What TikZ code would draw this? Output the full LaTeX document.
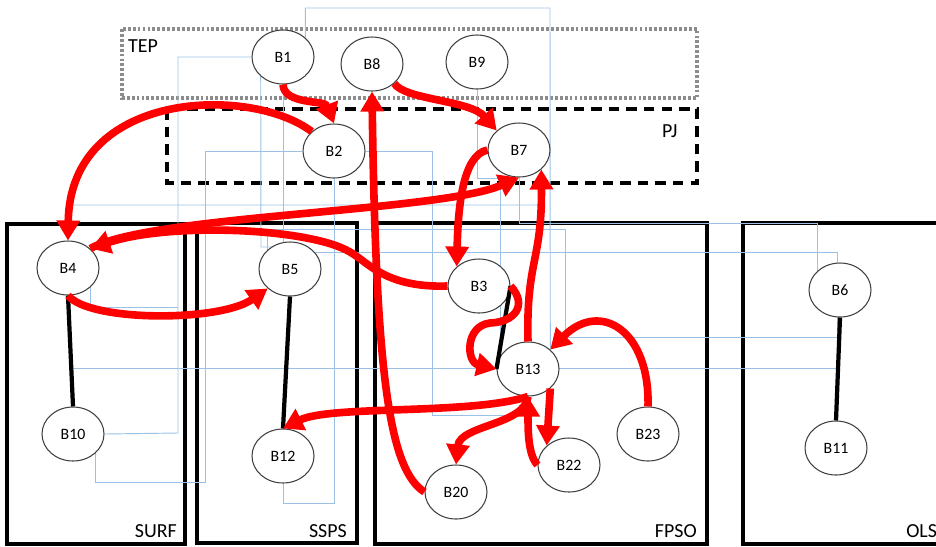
\documentclass[tikz,border=0pt]{standalone}
\usepackage{fontspec}
\setmainfont{Carlito}
\usetikzlibrary{shapes.geometric,arrows.meta,backgrounds}
\definecolor{wireblue}{RGB}{155,194,230}
\tikzstyle{block} = [ellipse, draw=black!75, line width=0.9pt, fill=white, minimum width=1.86cm, minimum height=1.62cm, inner sep=0pt, font=\fontsize{13.5}{15}\selectfont]
\tikzstyle{flow} = [draw=red, line width=6.5pt, -{Triangle[length=0.6cm,width=0.68cm]}]
\tikzstyle{tie} = [draw, line width=3.6pt]
\tikzstyle{wire} = [draw=wireblue, line width=0.8pt]
\tikzstyle{frame} = [draw, line width=2.6pt]
\tikzstyle{tag} = [font=\fontsize{17}{20}\selectfont, inner sep=0pt]

\begin{document}
\begin{tikzpicture}[x=0.03cm, y=-0.03cm]
\useasboundingbox (0,0) rectangle (936,546);

% blocks
\node [block] (b1) at (283,57) {B1};
\node [block] (b8) at (372,64) {B8};
\node [block] (b9) at (477,62) {B9};
\node [block] (b2) at (334,151) {B2};
\node [block] (b7) at (519,150) {B7};
\node [block] (b4) at (68,268) {B4};
\node [block] (b10) at (73,434) {B10};
\node [block] (b5) at (290,269) {B5};
\node [block] (b12) at (283,456) {B12};
\node [block] (b3) at (479,286) {B3};
\node [block] (b13) at (528,369) {B13};
\node [block] (b20) at (456,492) {B20};
\node [block] (b22) at (569,465) {B22};
\node [block] (b23) at (648,434) {B23};
\node [block] (b6) at (840,290) {B6};
\node [block] (b11) at (836,448) {B11};

\node [tag, anchor=west] (tep) at (128,46) {TEP};
\node [tag, anchor=west] (pj) at (662,131) {PJ};
\node [tag, anchor=east] (surf) at (177,531) {SURF};
\node [tag, anchor=east] (ssps) at (347,531) {SSPS};
\node [tag, anchor=east] (fpso) at (697,531) {FPSO};
\node [tag, anchor=west] (ols) at (906,531) {OLS};

\coordinate (m410) at (71,368);
\coordinate (m611) at (839,337);

% groups and thin links behind the blocks
\begin{pgfonlayer}{background}
\draw [frame, draw=black!45, line width=2.6pt, dash pattern=on 2.4pt off 1.8pt] (122,29) rectangle (697,98);
\draw [frame, dash pattern=on 9pt off 6pt] (167,109) rectangle (697,183);
\draw [frame] (7,224) rectangle (185,544);
\draw [frame] (197,223) rectangle (357,543);
\draw [frame] (375,223) rectangle (707,544);
\draw [frame] (743,223) rectangle (960,544);

\path [wire] (b1.west) -| (178,433) -- (b10.east);
\path [wire] (b1.north east) |- (550,8) -- (b13.north east);
\path [wire] (b7.south east) -- (541,205) -| (b4.north);
\path [wire] (b6.north west) |- (519,223) -- (b7.south);
\path [wire] (b5.north west) |- (565,229) |- (m611);
\path [wire] (b1.south) -- (283,252) -| (837,368) -- (m410);
\path [wire] (b4.south east) |- (178,307);
\path [wire] (b2.west) -| (205,482) -| (b10.south east);
\path [wire] (b2.east) -| (432,415) -| (b13.south);
\path [wire] (b2.south) |- (283,503) -- (b12.south);
\path [wire] (b1.south west) -- (261,247) -| (b5.north);
\path [wire] (b9.south) |- (500,178) |- (b13.west);
\end{pgfonlayer}

\path [tie] (b4.south) -- (b10.north);
\path [tie] (b5.south) -- (b12.north);
\path [tie] (b3.east) -- (b13.west);
\path [tie] (b6.south) -- (b11.north);

% now the red flows between the blocks
\path [flow] (b1.south) .. controls (284,105) and (325,100) .. (b2.north);
\path [flow] (b8.south east) .. controls (405,100) and (470,100) .. (b7.north west);
\path [flow] (b2.north west) .. controls (250,85) and (70,90) .. (b4.north);
\path [flow] (b4.north east) .. controls (150,215) and (440,212) .. (b7.south);
\path [flow] (b3.west) .. controls (385,288) and (368,262) .. (350,252) .. controls (310,228) and (170,222) .. (b4.north east);
\path [flow] (b7.west) .. controls (462,155) and (458,210) .. (b3.north west);
\path [flow] (b13.north) .. controls (526,260) and (542,262) .. (b7.south east);
\path [flow] (b20.west) .. controls (390,470) and (376,380) .. (b8.south);
\path [flow] (b4.south) .. controls (90,322) and (220,322) .. (b5.south west);
\path [flow] (b13.south) .. controls (470,415) and (330,405) .. (b12.north);
\path [flow] (b13.south) .. controls (525,425) and (460,425) .. (b20.north);
\path [flow] (b13.south east) -- (b22.north west);
\path [flow] (b22.west) .. controls (528,455) and (528,430) .. (b13.south);
\path [flow] (b23.north) .. controls (650,330) and (600,300) .. (b13.north east);
\path [flow] (b3.east) .. controls (528,305) and (515,322) .. (490,323) .. controls (465,326) and (466,362) .. (b13.west);

\end{tikzpicture}
\end{document}
